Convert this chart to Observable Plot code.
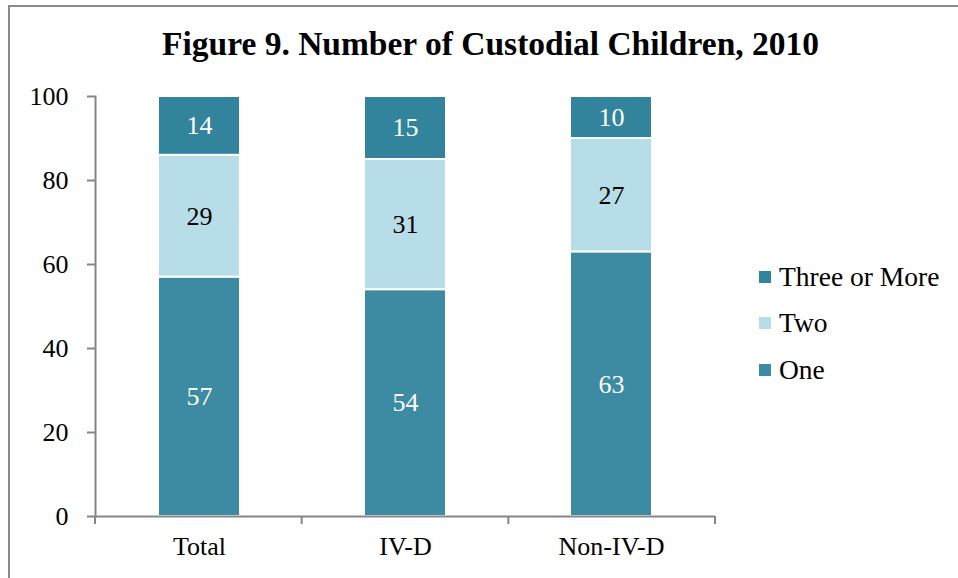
<!DOCTYPE html>
<html>
<head>
<meta charset="utf-8">
<script src="https://cdn.jsdelivr.net/npm/d3@7"></script>
<script src="https://cdn.jsdelivr.net/npm/@observablehq/plot@0.6"></script>
<style>
  html, body { margin: 0; padding: 0; background: #fff; overflow: hidden; }
  #wrap { position: relative; width: 958px; height: 578px; font-family: "Liberation Serif", serif; }
  #border { position: absolute; left: 8px; top: 5px; width: 960px; height: 600px; border: 2px solid #8a8a8a; box-sizing: border-box; }
  #title { position: absolute; left: 0; width: 981px; top: 27px; text-align: center; font-weight: bold; font-size: 33.5px; line-height: 33px; color: #000; white-space: nowrap; }
  #chart { position: absolute; left: 0; top: 0; }
  .leg { position: absolute; left: 759px; height: 30px; display: flex; align-items: center; font-size: 27.5px; color: #000; white-space: nowrap; }
  .leg span.sw { display: inline-block; width: 12px; height: 12px; margin-right: 8px; }
</style>
</head>
<body>
<div id="wrap">
  <div id="border"></div>
  <div id="title">Figure 9. Number of Custodial Children, 2010</div>
  <div id="chart"></div>
  <div id="legend"></div>
</div>
<script>
const categories = ["Total", "IV-D", "Non-IV-D"];
const series = ["One", "Two", "Three or More"];
const oneValues = [57, 54, 63];
const twoValues = [29, 31, 27];
const threeValues = [14, 15, 10];
const seriesColors = ["#3c8ba3", "#b7dde8", "#31849b"];
const yTicks = [0, 20, 40, 60, 80, 100];
const legendOrder = ["Three or More", "Two", "One"];

const valuesBySeries = {"One": oneValues, "Two": twoValues, "Three or More": threeValues};
const data = categories.flatMap((c, i) => series.map(s => ({cat: c, series: s, value: valuesBySeries[s][i]})));

const W = 958, H = 578;
const mL = 95, mR = 243, mT = 96, mB = 62;

function boundaryTicks(index, scales, values, dims) {
  const g = d3.create("svg:g");
  const left = dims.marginLeft, right = dims.width - dims.marginRight;
  const n = categories.length;
  const y0 = scales.y(0);
  for (let i = 0; i <= n; i++) {
    const xx = left + (right - left) * i / n;
    g.append("line").attr("x1", xx).attr("x2", xx).attr("y1", y0).attr("y2", y0 + 8)
      .attr("stroke", "#868686").attr("stroke-width", 2);
  }
  return g.node();
}

const chart = Plot.plot({
  width: W, height: H,
  marginLeft: mL, marginRight: mR, marginTop: mT, marginBottom: mB,
  style: {fontFamily: "Liberation Serif, serif", fontSize: "26px", color: "#000", background: "transparent"},
  x: {domain: categories, paddingInner: 0.6, paddingOuter: 0.3, axis: null},
  y: {domain: [0, 100], axis: null},
  color: {domain: series, range: seriesColors},
  marks: [
    Plot.barY(data, {x: "cat", y: "value", fill: "series", stroke: "white", strokeWidth: 2, order: series,
      style: {filter: "drop-shadow(1px 1px 2px rgba(0,0,0,0.25))"}}),
    Plot.text(data, Plot.stackY({x: "cat", y: "value", z: "series", order: series,
      text: d => d.series === "Two" ? null : d.value, fill: "white", fontSize: 26})),
    Plot.text(data, Plot.stackY({x: "cat", y: "value", z: "series", order: series,
      text: d => d.series === "Two" ? d.value : null, fill: "black", fontSize: 26})),
    Plot.axisY({ticks: yTicks, tickSize: 8, tickPadding: 19, stroke: "#868686", strokeWidth: 2, fontSize: 26, tickFormat: d => String(d), label: null}),
    Plot.frame({anchor: "left", stroke: "#868686", strokeWidth: 2}),
    Plot.ruleY([0], {stroke: "#868686", strokeWidth: 2}),
    Plot.axisX({tickSize: 0, tickPadding: 20, fontSize: 26, label: null}),
    boundaryTicks
  ]
});
document.getElementById("chart").appendChild(chart);

const legend = document.getElementById("legend");
const legendY = [277, 323, 370];
legendOrder.forEach((s, i) => {
  const row = document.createElement("div");
  row.className = "leg";
  row.style.top = (legendY[i] - 15) + "px";
  const sw = document.createElement("span");
  sw.className = "sw";
  sw.style.background = seriesColors[series.indexOf(s)];
  row.appendChild(sw);
  row.appendChild(document.createTextNode(s));
  legend.appendChild(row);
});
</script>
</body>
</html>
